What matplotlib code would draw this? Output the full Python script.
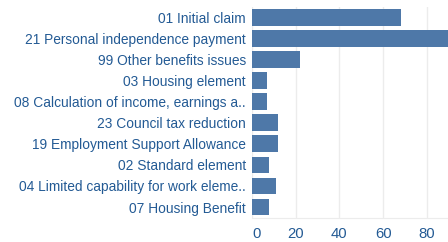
import matplotlib
matplotlib.use("Agg")
import matplotlib.pyplot as plt

categories = [
    "01 Initial claim",
    "21 Personal independence payment",
    "99 Other benefits issues",
    "03 Housing element",
    "08 Calculation of income, earnings a..",
    "23 Council tax reduction",
    "19 Employment Support Allowance",
    "02 Standard element",
    "04 Limited capability for work eleme..",
    "07 Housing Benefit",
]
counts = [68, 90, 22, 7, 7, 12, 12, 8, 11, 8]

bar_color = "#4e78a8"
text_color = "#235a94"

plt.rcParams["font.family"] = ["Liberation Sans", "DejaVu Sans"]

fig = plt.figure(figsize=(4.48, 2.42), dpi=100)
ax = fig.add_axes([0.5625, 0.101, 0.4375, 0.871])

y = list(range(len(categories)))
ax.barh(y, counts, height=0.79, color=bar_color, zorder=2)
ax.set_yticks(y)
ax.set_yticklabels(categories)
ax.set_ylim(len(categories) - 0.5, -0.5)
ax.set_xlim(0, 89.7)
ax.set_xticks([0, 20, 40, 60, 80])

ax.grid(axis="x", color="#ececec", lw=1, zorder=0)
ax.grid(axis="y", visible=False)
for s in ["top", "right", "left"]:
    ax.spines[s].set_visible(False)
ax.spines["bottom"].set_color("#ececec")
ax.tick_params(axis="y", length=0, pad=4.5, labelsize=9.9, labelcolor=text_color)
ax.tick_params(axis="x", length=0, pad=6.9, labelsize=10.7, labelcolor=text_color)
# first x label sits just right of zero, as in the original
ax.get_xticklabels()[0].set_horizontalalignment("left")

fig.savefig("out.png", dpi=100)
